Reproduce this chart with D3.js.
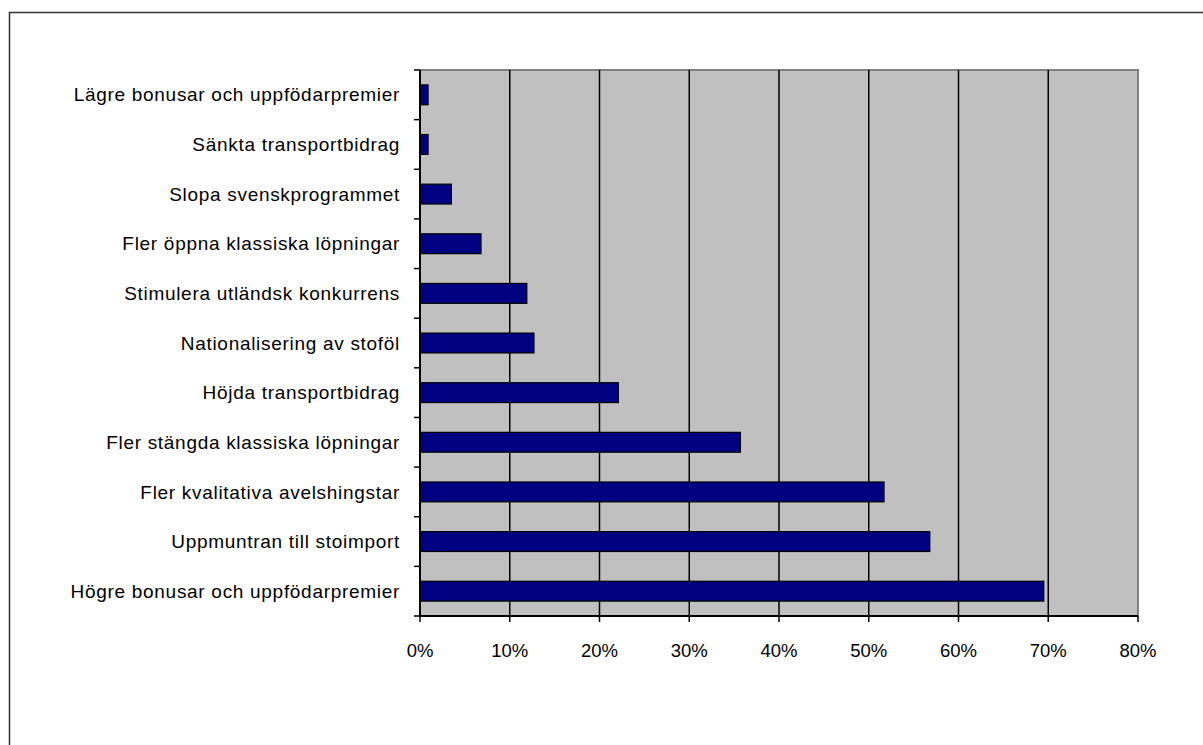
<!DOCTYPE html>
<html>
<head>
<meta charset="utf-8">
<script src="https://cdn.jsdelivr.net/npm/d3@7"></script>
<style>
  body { margin: 0; background: #fff; }
  text { font-family: "Liberation Sans", Arial, sans-serif; }
</style>
</head>
<body>
<div id="chart"></div>
<script>
// categories listed top to bottom
var categories = [
  "Lägre bonusar och uppfödarpremier",
  "Sänkta transportbidrag",
  "Slopa svenskprogrammet",
  "Fler öppna klassiska löpningar",
  "Stimulera utländsk konkurrens",
  "Nationalisering av stoföl",
  "Höjda transportbidrag",
  "Fler stängda klassiska löpningar",
  "Fler kvalitativa avelshingstar",
  "Uppmuntran till stoimport",
  "Högre bonusar och uppfödarpremier"
];
var values = [0.9, 0.9, 3.5, 6.8, 11.9, 12.7, 22.1, 35.7, 51.7, 56.8, 69.5];
var xTicks = [0, 10, 20, 30, 40, 50, 60, 70, 80];

var width = 1203, height = 745;
var plot = { left: 420, top: 70, right: 1138, bottom: 616 };

var svg = d3.select("#chart").append("svg")
  .attr("width", width)
  .attr("height", height);

// outer frame
svg.append("rect")
  .attr("x", 9.5).attr("y", 12.5)
  .attr("width", 1220).attr("height", 760)
  .attr("fill", "#fff")
  .attr("stroke", "#333").attr("stroke-width", 1.5);

var x = d3.scaleLinear().domain([0, 80]).range([plot.left, plot.right]);
var y = d3.scaleBand().domain(categories).range([plot.top, plot.bottom]).paddingInner(0.6).paddingOuter(0.3);
var yEdges = d3.scaleBand().domain(categories).range([plot.top, plot.bottom]);

svg.append("rect")
  .attr("x", plot.left).attr("y", plot.top)
  .attr("width", plot.right - plot.left).attr("height", plot.bottom - plot.top)
  .attr("fill", "#c0c0c0")
  .attr("stroke", "#808080").attr("stroke-width", 2);

// gridlines
svg.append("g").selectAll("line")
  .data(xTicks.slice(1, -1))
  .enter().append("line")
  .attr("x1", function(d){ return x(d); })
  .attr("x2", function(d){ return x(d); })
  .attr("y1", plot.top).attr("y2", plot.bottom)
  .attr("stroke", "#000").attr("stroke-width", 1.5);

// bars
svg.append("g").selectAll("rect")
  .data(values)
  .enter().append("rect")
  .attr("x", x(0))
  .attr("y", function(d, i){ return y(categories[i]); })
  .attr("width", function(d){ return x(d) - x(0); })
  .attr("height", y.bandwidth())
  .attr("fill", "#000080")
  .attr("stroke", "#000").attr("stroke-width", 1.2);

// y axis
svg.append("line")
  .attr("x1", plot.left).attr("x2", plot.left)
  .attr("y1", plot.top).attr("y2", plot.bottom)
  .attr("stroke", "#000").attr("stroke-width", 2);
var yTickPos = categories.map(function(c){ return yEdges(c); }).concat([plot.bottom]);
svg.append("g").selectAll("line")
  .data(yTickPos)
  .enter().append("line")
  .attr("x1", plot.left - 6).attr("x2", plot.left)
  .attr("y1", function(d){ return d; }).attr("y2", function(d){ return d; })
  .attr("stroke", "#000").attr("stroke-width", 1.5);
svg.append("g").selectAll("text")
  .data(categories)
  .enter().append("text")
  .attr("x", 400)
  .attr("y", function(d){ return yEdges(d) + yEdges.bandwidth() / 2; })
  .attr("dy", "0.35em")
  .attr("text-anchor", "end")
  .attr("font-size", 19)
  .attr("letter-spacing", "0.7px")
  .attr("fill", "#000")
  .text(function(d){ return d; });

// x axis
svg.append("line")
  .attr("x1", plot.left).attr("x2", plot.right)
  .attr("y1", plot.bottom).attr("y2", plot.bottom)
  .attr("stroke", "#000").attr("stroke-width", 2);
svg.append("g").selectAll("line")
  .data(xTicks)
  .enter().append("line")
  .attr("x1", function(d){ return x(d); }).attr("x2", function(d){ return x(d); })
  .attr("y1", plot.bottom).attr("y2", plot.bottom + 6)
  .attr("stroke", "#000").attr("stroke-width", 1.5);
svg.append("g").selectAll("text")
  .data(xTicks)
  .enter().append("text")
  .attr("x", function(d){ return x(d); })
  .attr("y", 657)
  .attr("text-anchor", "middle")
  .attr("font-size", 18.5)
  .attr("fill", "#000")
  .text(function(d){ return d + "%"; });
</script>
</body>
</html>
